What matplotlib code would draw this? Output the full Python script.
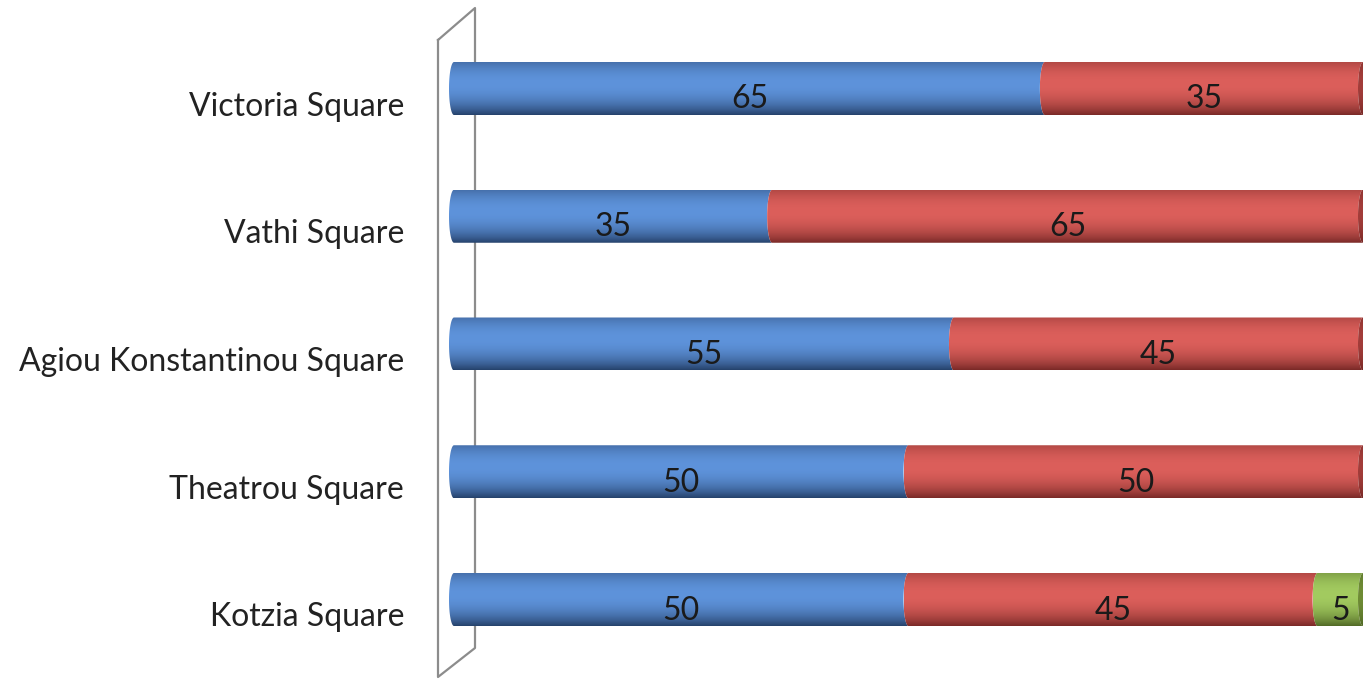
import numpy as np
import matplotlib.pyplot as plt
from matplotlib.patches import Polygon
from matplotlib.lines import Line2D
from matplotlib.colors import to_rgb
from matplotlib.transforms import offset_copy

# data, bottom to top
squares = ['Kotzia Square', 'Theatrou Square', 'Agiou Konstantinou Square',
           'Vathi Square', 'Victoria Square']
series_a = [50, 50, 55, 35, 65]
series_b = [45, 50, 45, 65, 35]
series_c = [5, 0, 0, 0, 0]
series = [series_a, series_b, series_c]

light = ['#5e93db', '#dc5f5b', '#a3cb60']
dark = ['#213b62', '#722523', '#4c6322']
cap = ['#3a5f94', '#a33d3a', '#6f8c35']

font = ['Liberation Sans Narrow', 'DejaVu Sans Condensed', 'Lato', 'DejaVu Sans']

W, H = 1363, 679
fig = plt.figure(figsize=(W / 100, H / 100), dpi=100)
# x=0 at 454 px, x=100 at 1363 px; bar centres 127.75 px apart
px_per_unit = 9.09
row_px = 127.75
pad = 30  # px of room left and right of the value range
ax = fig.add_axes([(454 - pad) / W, 0, (909 + 2 * pad) / W, 1])
ax.set_axis_off()
ylo = -(H - 599.5) / row_px
yhi = 599.5 / row_px
bar_h = 53 / row_px
a = 5 / px_per_unit  # half width of the cylinder ellipse


def gradient(c_light, c_dark, n=64):
    t = np.linspace(0, 1, n)
    w = np.clip(1 - ((t - 0.6) / 0.62) ** 2, 0, 1) ** 0.9
    lo, hi = np.array(to_rgb(c_dark)), np.array(to_rgb(c_light))
    return (lo[None, :] * (1 - w[:, None]) + hi[None, :] * w[:, None])[:, None, :]


theta = np.linspace(-np.pi / 2, np.pi / 2, 60)


def segment(l, r, yc, col_l, col_d):
    left = np.column_stack([l - a * np.cos(theta), yc + bar_h / 2 * np.sin(theta)])
    right = np.column_stack([r - a * np.cos(theta[::-1]), yc + bar_h / 2 * np.sin(theta[::-1])])
    poly = Polygon(np.vstack([left, right]), closed=True, facecolor='none', edgecolor='none')
    ax.add_patch(poly)
    im = ax.imshow(gradient(col_l, col_d), extent=(l - a, r + a, yc - bar_h / 2, yc + bar_h / 2),
                   origin='lower', aspect='auto', interpolation='bilinear', zorder=2)
    im.set_clip_path(poly)


def end_cap(r, yc, col_l, col_d):
    phi = np.linspace(0, 2 * np.pi, 120)
    pts = np.column_stack([r + a * np.cos(phi), yc + bar_h / 2 * np.sin(phi)])
    poly = Polygon(pts, closed=True, facecolor='none', edgecolor='none')
    ax.add_patch(poly)
    im = ax.imshow(gradient(col_l, col_d), extent=(r - a, r + a, yc - bar_h / 2, yc + bar_h / 2),
                   origin='lower', aspect='auto', interpolation='bilinear', zorder=3)
    im.set_clip_path(poly)


lbl_tr = offset_copy(ax.transData, fig=fig, x=0, y=-11, units='dots')
cat_tr = offset_copy(ax.transData, fig=fig, x=-50, y=-18, units='dots')

for i, name in enumerate(squares):
    left = 0
    last = 0
    for k, s in enumerate(series):
        v = s[i]
        if v <= 0:
            continue
        segment(left, left + v, i, light[k], dark[k])
        ax.text(left + v / 2, i, str(v), transform=lbl_tr, ha='center', va='center',
                fontsize=23, color='#1a1a1a', family=font, zorder=5)
        left += v
        last = k
    end_cap(left, i, cap[last], dark[last])
    ax.text(0, i, name, transform=cat_tr, ha='right', va='center',
            fontsize=23, color='#222222', family=font)

ax.set_xlim(-pad / px_per_unit, 100 + pad / px_per_unit)
ax.set_ylim(ylo, yhi)

# side wall of the 3d plot area
wx = [438, 475, 475, 438, 438]
wy = [40, 8, 648, 677, 40]
fig.add_artist(Line2D([x / W for x in wx], [1 - y / H for y in wy], transform=fig.transFigure,
                      color='#8c8c8c', lw=1.6, zorder=-1))

fig.savefig('out.png', dpi=100)
